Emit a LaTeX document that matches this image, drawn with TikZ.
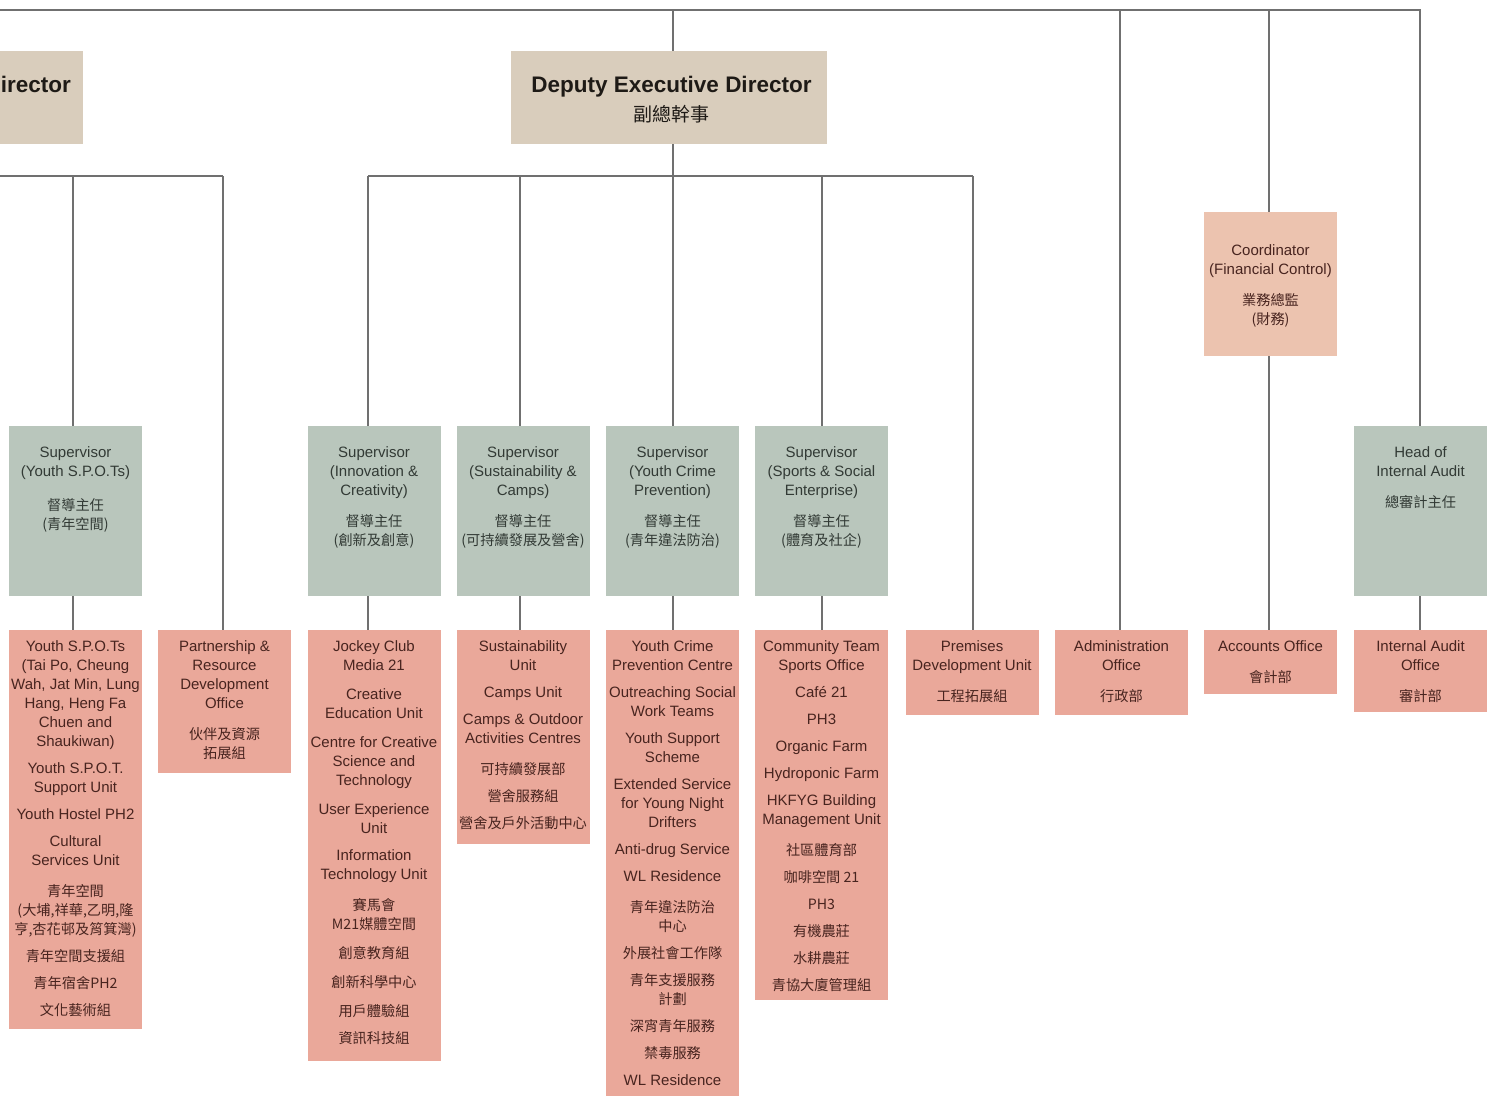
\documentclass[tikz,border=0pt]{standalone}
\usepackage{fontspec}
\setmainfont{Liberation Sans}
\newfontfamily\cjkf{Noto Sans CJK TC}
\usetikzlibrary{calc}
\definecolor{linec}{RGB}{112,112,112}
\definecolor{tanc}{RGB}{217,205,188}
\definecolor{supc}{RGB}{185,198,188}
\definecolor{coordc}{RGB}{236,195,175}
\definecolor{unitc}{RGB}{234,168,154}
\definecolor{suptext}{RGB}{50,58,53}
\definecolor{unittext}{RGB}{72,36,31}
\definecolor{headtext}{RGB}{30,26,22}
\newcommand\entxt{\fontsize{15}{19}\selectfont}
\newcommand\zhl[1]{{\cjkf\fontsize{14.2}{19}\selectfont #1}}
\tikzset{
  conn/.style={draw=linec, line width=2pt},
  boxbase/.style={draw=none, minimum width=133pt, inner sep=0pt, outer sep=0pt, anchor=north},
  tanbox/.style={boxbase, fill=tanc},
  supbox/.style={boxbase, fill=supc},
  coordbox/.style={boxbase, fill=coordc},
  unitbox/.style={boxbase, fill=unitc},
  stxt/.style={anchor=north, align=center, inner sep=0pt, font=\entxt, text=suptext},
  ctxt/.style={anchor=north, align=center, inner sep=0pt, font=\entxt, text=unittext},
  utxt/.style={anchor=north, align=center, inner sep=0pt, font=\entxt, text=unittext},
  titletxt/.style={anchor=base, inner sep=0pt, font=\fontsize{22.5}{27}\selectfont\bfseries, text=headtext},
}
\begin{document}
\begin{tikzpicture}[x=1pt,y=-1pt]
\useasboundingbox (0,0) rectangle (1495,1095);
\clip (0,0) rectangle (1495,1095);

% bus coordinates
\coordinate (tl) at (0,10);
\coordinate (tr) at (1420,10);
\coordinate (dx) at (673,10);
\coordinate (ax) at (1120,10);
\coordinate (cx) at (1269,10);
\coordinate (lbl) at (0,176);
\coordinate (b1) at (73,176);
\coordinate (b2) at (223,176);
\coordinate (rb1) at (368,176);
\coordinate (rb2) at (520,176);
\coordinate (rb3) at (673,176);
\coordinate (rb4) at (822,176);
\coordinate (rb5) at (973,176);

% top level boxes
\node[tanbox, minimum width=143pt, minimum height=93pt] (ed) at (11.5,51) {};
\node[tanbox, minimum width=316pt, minimum height=93pt] (ded) at (669,51) {};

% supervisors
\node[supbox, minimum height=170pt] (s1) at (75.5,426) {};
\node[supbox, minimum height=170pt] (s2) at (374,426) {};
\node[supbox, minimum height=170pt] (s3) at (523,426) {};
\node[supbox, minimum height=170pt] (s4) at (672.5,426) {};
\node[supbox, minimum height=170pt] (s5) at (821.5,426) {};
\node[supbox, minimum height=170pt] (hia) at (1420.5,426) {};
\node[coordbox, minimum height=144pt] (fc) at (1270.5,212) {};

% units
\node[unitbox, minimum height=399pt] (u1) at (75.5,630) {};
\node[unitbox, minimum height=143pt] (pr) at (224.5,630) {};
\node[unitbox, minimum height=431pt] (u2) at (374,630) {};
\node[unitbox, minimum height=214pt] (u3) at (523,630) {};
\node[unitbox, minimum height=470pt] (u4) at (672.5,630) {};
\node[unitbox, minimum height=370pt] (u5) at (821.5,630) {};
\node[unitbox, minimum height=85pt] (pd) at (972,630) {};
\node[unitbox, minimum height=85pt] (ad) at (1121.5,630) {};
\node[unitbox, minimum height=64pt] (ac) at (1270.5,630) {};
\node[unitbox, minimum height=82pt] (ia) at (1420.5,630) {};

% connectors
\draw[conn, line width=2.5pt, line join=miter] (tl) -- (tr) -- (tr |- hia.north);
\draw[conn] (hia.south -| tr) -- (tr |- ia.north);
\draw[conn] (dx) -- (dx |- ded.north);
\draw[conn] (dx |- ded.south) -- (rb3);
\draw[conn] (rb1) -- (rb5);
\draw[conn] (lbl) -- (b2);
\draw[conn] (b1) -- (b1 |- s1.north);
\draw[conn] (s1.south -| b1) -- (b1 |- u1.north);
\draw[conn] (b2) -- (b2 |- pr.north);
\draw[conn] (rb1) -- (rb1 |- s2.north);
\draw[conn] (s2.south -| rb1) -- (rb1 |- u2.north);
\draw[conn] (rb2) -- (rb2 |- s3.north);
\draw[conn] (s3.south -| rb2) -- (rb2 |- u3.north);
\draw[conn] (rb3) -- (rb3 |- s4.north);
\draw[conn] (s4.south -| rb3) -- (rb3 |- u4.north);
\draw[conn] (rb4) -- (rb4 |- s5.north);
\draw[conn] (s5.south -| rb4) -- (rb4 |- u5.north);
\draw[conn] (rb5) -- (rb5 |- pd.north);
\draw[conn] (ax) -- (ax |- ad.north);
\draw[conn] (cx) -- (cx |- fc.north);
\draw[conn] (fc.south -| cx) -- (cx |- ac.north);

% titles
\node[titletxt, anchor=base east] (edt) at ($(ed.north east)+(-12,41)$) {irector};
\node[titletxt] (dedt) at ($(ded.north)+(2.5,41)$) {Deputy Executive Director};
\node[anchor=base, inner sep=0pt, text=headtext, font=\cjkf\fontsize{19}{23}\selectfont] (dedz) at ($(ded.north)+(2.5,70)$) {副總幹事};

% supervisor texts
\node[stxt] (s1t) at ($(s1.north)+(0,18)$) {\strut Supervisor\\(Youth S.P.O.Ts)\\[15pt]\zhl{督導主任}\\\zhl{(青年空間)}};
\node[stxt] (s2t) at ($(s2.north)+(0,18)$) {\strut Supervisor\\(Innovation \&\\Creativity)\\[12pt]\zhl{督導主任}\\\zhl{(創新及創意)}};
\node[stxt] (s3t) at ($(s3.north)+(0,18)$) {\strut Supervisor\\(Sustainability \&\\Camps)\\[12pt]\zhl{督導主任}\\\zhl{(可持續發展及營舍)}};
\node[stxt] (s4t) at ($(s4.north)+(0,18)$) {\strut Supervisor\\(Youth Crime\\Prevention)\\[12pt]\zhl{督導主任}\\\zhl{(青年違法防治)}};
\node[stxt] (s5t) at ($(s5.north)+(0,18)$) {\strut Supervisor\\(Sports \& Social\\Enterprise)\\[12pt]\zhl{督導主任}\\\zhl{(體育及社企)}};
\node[stxt] (hiat) at ($(hia.north)+(0,18)$) {\strut Head of\\Internal Audit\\[12pt]\zhl{總審計主任}};
\node[ctxt] (fct) at ($(fc.north)+(0,30)$) {\strut Coordinator\\(Financial Control)\\[12pt]\zhl{業務總監}\\\zhl{(財務)}};

% unit texts
\node[utxt] (u1t) at ($(u1.north)+(0,8)$) {\strut Youth S.P.O.Ts\\(Tai Po, Cheung\\Wah, Jat Min, Lung\\Hang, Heng Fa\\Chuen and\\Shaukiwan)\\[8pt]Youth S.P.O.T.\\Support Unit\\[8pt]Youth Hostel PH2\\[8pt]Cultural\\Services Unit\\[12pt]\zhl{青年空間}\\\zhl{(大埔,祥華,乙明,隆}\\\zhl{亨,杏花邨及筲箕灣)}\\[8pt]\zhl{青年空間支援組}\\[8pt]\zhl{青年宿舍PH2}\\[8pt]\zhl{文化藝術組}};
\node[utxt] (prt) at ($(pr.north)+(0,8)$) {\strut Partnership \&\\Resource\\Development\\Office\\[12pt]\zhl{伙伴及資源}\\\zhl{拓展組}};
\node[utxt] (u2t) at ($(u2.north)+(0,8)$) {\strut Jockey Club\\Media 21\\[10pt]Creative\\Education Unit\\[10pt]Centre for Creative\\Science and\\Technology\\[10pt]User Experience\\Unit\\[8pt]Information\\Technology Unit\\[12pt]\zhl{賽馬會}\\\zhl{M21媒體空間}\\[10pt]\zhl{創意教育組}\\[10pt]\zhl{創新科學中心}\\[10pt]\zhl{用戶體驗組}\\[8pt]\zhl{資訊科技組}};
\node[utxt] (u3t) at ($(u3.north)+(0,8)$) {\strut Sustainability\\Unit\\[8pt]Camps Unit\\[8pt]Camps \& Outdoor\\Activities Centres\\[12pt]\zhl{可持續發展部}\\[8pt]\zhl{營舍服務組}\\[8pt]\zhl{營舍及戶外活動中心}};
\node[utxt] (u4t) at ($(u4.north)+(0,8)$) {\strut Youth Crime\\Prevention Centre\\[8pt]Outreaching Social\\Work Teams\\[8pt]Youth Support\\Scheme\\[8pt]Extended Service\\for Young Night\\Drifters\\[8pt]Anti-drug Service\\[8pt]WL Residence\\[12pt]\zhl{青年違法防治}\\\zhl{中心}\\[8pt]\zhl{外展社會工作隊}\\[8pt]\zhl{青年支援服務}\\\zhl{計劃}\\[8pt]\zhl{深宵青年服務}\\[8pt]\zhl{禁毒服務}\\[8pt]WL Residence};
\node[utxt] (u5t) at ($(u5.north)+(0,8)$) {\strut Community Team\\Sports Office\\[8pt]Café 21\\[8pt]PH3\\[8pt]Organic Farm\\[8pt]Hydroponic Farm\\[8pt]HKFYG Building\\Management Unit\\[12pt]\zhl{社區體育部}\\[8pt]\zhl{咖啡空間 21}\\[8pt]\zhl{PH3}\\[8pt]\zhl{有機農莊}\\[8pt]\zhl{水耕農莊}\\[8pt]\zhl{青協大廈管理組}};
\node[utxt] (pdt) at ($(pd.north)+(0,8)$) {\strut Premises\\Development Unit\\[12pt]\zhl{工程拓展組}};
\node[utxt] (adt) at ($(ad.north)+(0,8)$) {\strut Administration\\Office\\[12pt]\zhl{行政部}};
\node[utxt] (act) at ($(ac.north)+(0,8)$) {\strut Accounts Office\\[12pt]\zhl{會計部}};
\node[utxt] (iat) at ($(ia.north)+(0,8)$) {\strut Internal Audit\\Office\\[12pt]\zhl{審計部}};
\end{tikzpicture}
\end{document}
